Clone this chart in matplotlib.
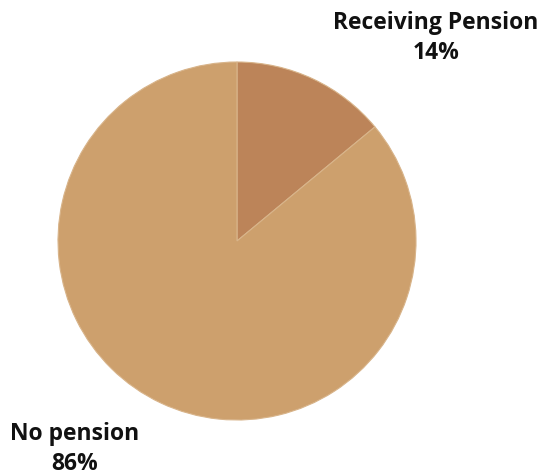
import matplotlib
matplotlib.use("Agg")
import matplotlib.pyplot as plt

categories = ["Receiving Pension", "No pension"]
values = [14, 86]
colors = ["#BC8459", "#CDA06D"]

W, H = 541, 476
fig = plt.figure(figsize=(W / 100, H / 100), dpi=100)
ax = fig.add_axes([0, 0, 1, 1])

ax.pie(values, colors=colors, startangle=90, counterclock=False,
       center=(237, H - 241), radius=179,
       wedgeprops=dict(linewidth=0.8, edgecolor="#D8B48A"))
ax.set_xlim(0, W)
ax.set_ylim(0, H)
ax.set_aspect("equal")
ax.axis("off")

font = dict(family=["Open Sans", "DejaVu Sans"], fontweight="bold",
            fontsize=16.5, color="#111111", ha="center", va="center",
            linespacing=1.3)
ax.text(436, H - 38, f"{categories[0]}\n{values[0]}%", **font)
ax.text(75, H - 449, f"{categories[1]}\n{values[1]}%", **font)

fig.savefig("out.png", dpi=100)
